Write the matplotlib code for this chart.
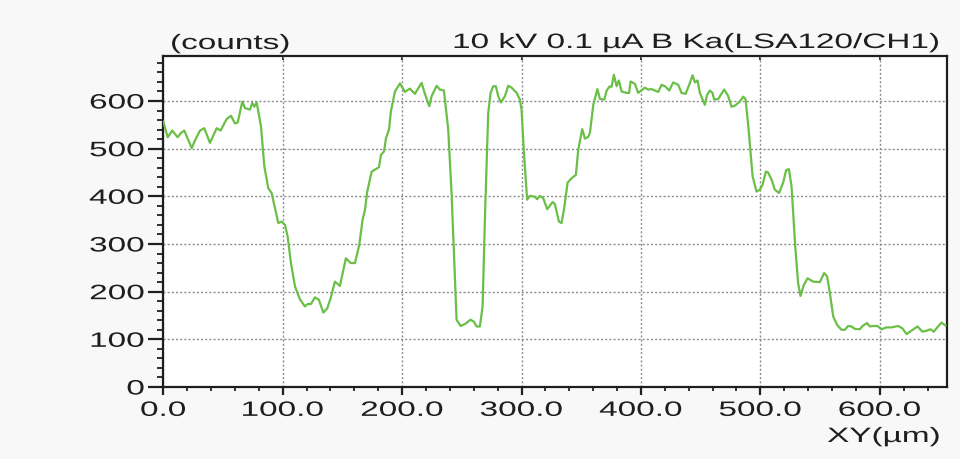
import matplotlib
matplotlib.use("Agg")
import matplotlib.pyplot as plt
from matplotlib.patheffects import AbstractPathEffect
from matplotlib.transforms import Affine2D
from matplotlib.ticker import MultipleLocator, FixedLocator

# Line scan profile: position (um) and intensity (counts)
position_um = [
    0, 3.7, 7.5, 12, 14.8, 17.6, 23.8, 26.5, 30.7, 34.3, 39.1, 44.7, 48, 53, 56.7,
    60, 62.3, 66.2, 68.4, 72.6, 74.5, 76.2, 78.2, 81.8, 84.6, 87.9, 90.7, 96.3,
    99.1, 101.9, 104.1, 106.9, 110.3, 114.4, 118.6, 120.9, 123.6, 127, 130.3, 134,
    137.3, 140.1, 143.7, 147.9, 152.9, 156.9, 160.5, 164.1, 166.9, 168.9, 170.8,
    174.5, 180.6, 182.3, 184.8, 186.5, 189, 190.6, 194, 198.2, 202.3, 206.5, 210.7,
    216.3, 219.1, 222.7, 224.7, 228.9, 231.6, 235, 238.6, 241.4, 245.6, 249, 252.6,
    257.3, 260.1, 262.4, 265.1, 267.4, 269.3, 272.1, 274.1, 276.3, 278.5, 280.5,
    282.7, 286.1, 288.8, 291.7, 295.9, 298.6, 300, 302, 304.7, 307, 311.2, 313.1,
    315.4, 318.2, 321.5, 326, 327.9, 331.3, 333.5, 335.7, 338.6, 341.9, 345.5,
    347.5, 350.8, 353.1, 355.9, 357.3, 360.1, 363.5, 365.7, 369.3, 371.3, 373.5,
    375.4, 377.3, 379.6, 381.5, 383.8, 388, 390.1, 391.3, 394.9, 397.7, 403.3,
    406.1, 408.9, 414.5, 417.3, 420.1, 423.7, 427, 431.2, 434, 437.4, 440.4, 443.2,
    445.2, 447.4, 449.3, 453.5, 455.4, 457.7, 459.9, 461.3, 464.6, 469.7, 473,
    475.8, 478.6, 482.8, 485.6, 487.6, 489.9, 493.5, 496.8, 499.6, 501.8, 504.6,
    506.5, 509.4, 512.1, 515.7, 519.1, 521.6, 523.9, 526.1, 529.2, 531.6, 533.6,
    536.4, 539.5, 544.2, 549.8, 553.4, 555.9, 558.2, 561, 564.3, 568, 570.7, 573.5,
    576.3, 579.1, 583.3, 585.5, 589.4, 591.6, 594.4, 598.1, 601.4, 605.6, 609.8,
    615.3, 619, 622.4, 626.5, 631.6, 635.7, 639.1, 642.4, 645.2, 648.8, 651.7, 655,
]
counts = [
    557, 524, 538, 524, 533, 538, 501, 517, 538, 543, 512, 543, 538, 562, 569,
    553, 555, 599, 585, 582, 596, 588, 597, 547, 463, 417, 407, 344,
    347, 340, 316, 260, 211, 184, 169, 174, 174, 188, 183, 156,
    165, 186, 221, 212, 270, 260, 260, 298, 351, 372, 410,
    452, 461, 487, 494, 522, 540, 578, 620, 637, 619, 626, 615,
    638, 615, 589, 610, 632, 624, 622, 540, 407, 141, 128, 132,
    141, 137, 127, 127, 169, 351, 575, 617, 631, 631, 610,
    597, 610, 632, 628, 617, 603, 582, 491, 393, 401, 399, 394,
    401, 396, 373, 388, 384, 347, 344, 375, 429, 438, 445,
    498, 541, 521, 525, 534, 592, 625, 604, 603, 622, 630,
    630, 655, 631, 643, 620, 617, 617, 641, 636, 617, 628,
    624, 625, 619, 634, 631, 622, 639, 634, 617, 615, 634, 654,
    639, 643, 617, 592, 613, 622, 617, 603, 604, 624, 611,
    588, 590, 599, 609, 604, 547, 442, 410, 414, 424, 452,
    450, 435, 414, 407, 429, 455, 457, 421, 295, 218, 191,
    214, 228, 221, 220, 239, 232, 197, 148, 130, 120, 120, 128,
    127, 122, 121, 128, 134, 127, 128, 128, 121, 125, 125,
    128, 123, 111, 118, 127, 116, 118, 121, 116, 127, 135, 129,
]

x_ticks = [0, 100, 200, 300, 400, 500, 600]
x_tick_labels = ["0.0", "100.0", "200.0", "300.0", "400.0", "500.0", "600.0"]
y_ticks = [0, 100, 200, 300, 400, 500, 600]
y_tick_labels = ["0", "100", "200", "300", "400", "500", "600"]

title_text = "10 kV 0.1 \u00b5A B Ka(LSA120/CH1)"
y_unit_text = "(counts)"
x_unit_text = "XY(\u00b5m)"


class WideText(AbstractPathEffect):
    """Draw glyphs stretched horizontally about the left, centre or right edge."""

    def __init__(self, sx=1.6, anchor="left"):
        super().__init__()
        self.sx = sx
        self.anchor = anchor

    def draw_path(self, renderer, gc, tpath, affine, rgbFace=None):
        ext = tpath.get_extents(affine)
        if self.anchor == "left":
            x0 = affine.transform((0, 0))[0]
        elif self.anchor == "right":
            x0 = ext.x1
        else:
            x0 = 0.5 * (ext.x0 + ext.x1)
        t = affine + Affine2D().translate(-x0, 0).scale(self.sx, 1).translate(x0, 0)
        renderer.draw_path(gc, tpath, t, rgbFace)


FONT = ["Liberation Sans", "DejaVu Sans"]
FS = 15
SX = 1.6
INK = "#1e1e1e"
GREEN = "#6abf47"

fig = plt.figure(figsize=(9.6, 4.59), dpi=100, facecolor="#f8f8f8")
ax = fig.add_axes([0.1701, 0.1569, 0.9861 - 0.1701, 0.8786 - 0.1569])
ax.set_facecolor("white")

ax.plot(position_um, counts, color=GREEN, lw=1.6, solid_joinstyle="round", zorder=3)

ax.set_xlim(0, 656)
ax.set_ylim(0, 695)

ax.xaxis.set_major_locator(FixedLocator(x_ticks))
ax.xaxis.set_minor_locator(MultipleLocator(20))
ax.yaxis.set_major_locator(FixedLocator(y_ticks))
ax.yaxis.set_minor_locator(MultipleLocator(20))
ax.set_xticklabels(x_tick_labels)
ax.set_yticklabels(y_tick_labels)

ax.grid(True, which="major", color="#8c8c8c", lw=1.0, linestyle=(0, (1.5, 1.5)))

for sp in ax.spines.values():
    sp.set_linewidth(1.6)
    sp.set_color(INK)

ax.tick_params(axis="y", which="major", direction="out", length=10.5, width=1.6,
               color=INK, pad=3, labelsize=FS, labelcolor=INK)
ax.tick_params(axis="y", which="minor", direction="out", length=4.5, width=1.3, color=INK)
ax.tick_params(axis="x", which="major", direction="out", length=6, width=1.6,
               color=INK, pad=4, labelsize=FS, labelcolor=INK)
ax.tick_params(axis="x", which="minor", direction="out", length=3, width=1.3, color=INK)

# short inward marks along the top frame
top = ax.secondary_xaxis("top")
top.xaxis.set_major_locator(FixedLocator(x_ticks))
top.tick_params(direction="in", length=3, width=1.3, color=INK, labeltop=False)
top.spines["top"].set_visible(False)

for lbl in ax.get_xticklabels():
    lbl.set_fontfamily(FONT)
    lbl.set_path_effects([WideText(SX, "center")])
for lbl in ax.get_yticklabels():
    lbl.set_fontfamily(FONT)
    lbl.set_path_effects([WideText(SX, "right")])

fig.text(170 / 960, 1 - 49 / 459, y_unit_text, ha="left", va="baseline",
         fontsize=FS, color=INK, family=FONT,
         path_effects=[WideText(SX, "left")])
fig.text(940 / 960, 1 - 48 / 459, title_text, ha="right", va="baseline",
         fontsize=FS, color=INK, family=FONT,
         path_effects=[WideText(SX, "right")])
fig.text(940 / 960, 1 - 442 / 459, x_unit_text, ha="right", va="baseline",
         fontsize=FS, color=INK, family=FONT,
         path_effects=[WideText(SX, "right")])

fig.savefig("out.png", dpi=100, facecolor=fig.get_facecolor())
